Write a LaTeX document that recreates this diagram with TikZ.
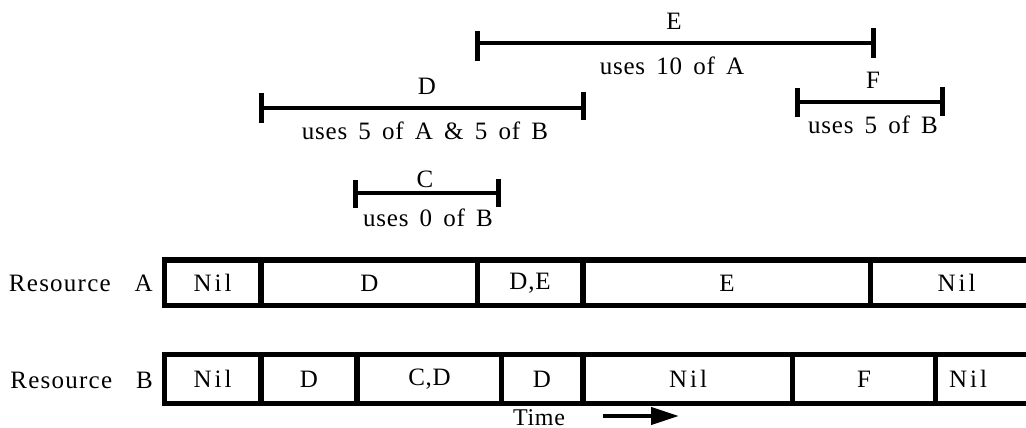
\documentclass[tikz,border=0pt]{standalone}
\usepackage{fontspec}
\setmainfont{Liberation Serif}[LetterSpace=3, WordSpace=1.6]
\newfontfamily\resfont{Liberation Serif}[LetterSpace=5, WordSpace=3.2]
\usetikzlibrary{arrows.meta}
\tikzset{
  cell/.style={fill=white, draw=none, inner sep=0pt, outer sep=0pt},
  barfill/.style={fill=black},
  span/.style={line width=4pt},
  tick/.style={line width=5pt},
  lbl/.style={inner sep=0pt},
  wide/.style={font=\fontsize{25}{30}\selectfont\addfontfeature{LetterSpace=12}},
  reslbl/.style={inner sep=0pt, anchor=east, font=\resfont\fontsize{25}{30}\selectfont},
  timelbl/.style={inner sep=0pt, anchor=base, font=\fontsize{24}{28}\selectfont},
}
\begin{document}
\begin{tikzpicture}[x=1pt,y=-1pt, font=\fontsize{25}{30}\selectfont]
\useasboundingbox (0,0) rectangle (1026,428);

% ---------- interval bars ----------
% E
\coordinate (El) at (477,43); \coordinate (Er) at (873,43);
\draw[span] (El) -- (Er);
\draw[tick] (477,31) -- (477,61);
\draw[tick] (873,28) -- (873,58);
\node[lbl] (Et) at (674,21) {E};
\node[lbl] (Eu) at (672,66) {uses 10 of A};
% D
\coordinate (Dl) at (261,108); \coordinate (Dr) at (583,108);
\draw[span] (Dl) -- (Dr);
\draw[tick] (261,93) -- (261,123);
\draw[tick] (583,92) -- (583,120);
\node[lbl] (Dt) at (427,86) {D};
\node[lbl] (Du) at (425,131) {uses 5 of A \& 5 of B};
% C
\coordinate (Cl) at (355,193); \coordinate (Cr) at (498,193);
\draw[span] (Cl) -- (Cr);
\draw[tick] (355,180) -- (355,208);
\draw[tick] (498,179) -- (498,207);
\node[lbl] (Ct) at (425,179) {C};
\node[lbl] (Cu) at (428,218) {uses 0 of B};
% F
\coordinate (Fl) at (797,102); \coordinate (Fr) at (942,102);
\draw[span] (Fl) -- (Fr);
\draw[tick] (797,88) -- (797,117);
\draw[tick] (942,87) -- (942,116);
\node[lbl] (Ft) at (873,80) {F};
\node[lbl] (Fu) at (873,125) {uses 5 of B};

% ---------- Resource A ----------
\node[reslbl] (RA) at (153,283) {Resource A};
\fill[barfill] (162,257) rectangle (1040,308);
\node[cell, minimum width=91, minimum height=40, wide] (a1) at (212.5,283) {Nil};
\node[cell, minimum width=211, minimum height=40] (a2) at (369.5,283) {D};
\node[cell, minimum width=100, minimum height=40] (a3) at (530,283) {D,E};
\node[cell, minimum width=282, minimum height=40] (a4) at (727,283) {E};
\node[cell, minimum width=167, minimum height=40, wide] (a5) at (956.5,283) {Nil};

% ---------- Resource B ----------
\node[reslbl] (RB) at (153,380) {Resource B};
\fill[barfill] (162,352) rectangle (1040,406);
\node[cell, minimum width=91, minimum height=44, wide] (b1) at (212.5,379) {Nil};
\node[cell, minimum width=90, minimum height=44] (b2) at (309,379) {D};
\node[cell, minimum width=139, minimum height=44] (b3) at (429.5,379) {C,D};
\node[cell, minimum width=76, minimum height=44] (b4) at (542,379) {D};
\node[cell, minimum width=204, minimum height=44, wide] (b5) at (688,379) {Nil};
\node[cell, minimum width=138, minimum height=44] (b6) at (864,379) {F};
\node[cell, minimum width=102, minimum height=44] (b7) at (989,379) {};
\node[lbl, wide] (b7t) at (968,379) {Nil};

% ---------- Time ----------
\node[timelbl] (time) at (539,425) {Time};
\coordinate (t0) at (603,416); \coordinate (t1) at (679,416);
\draw[line width=4pt, -{Triangle[length=28pt,width=17pt]}] (t0) -- (t1);
\end{tikzpicture}
\end{document}
